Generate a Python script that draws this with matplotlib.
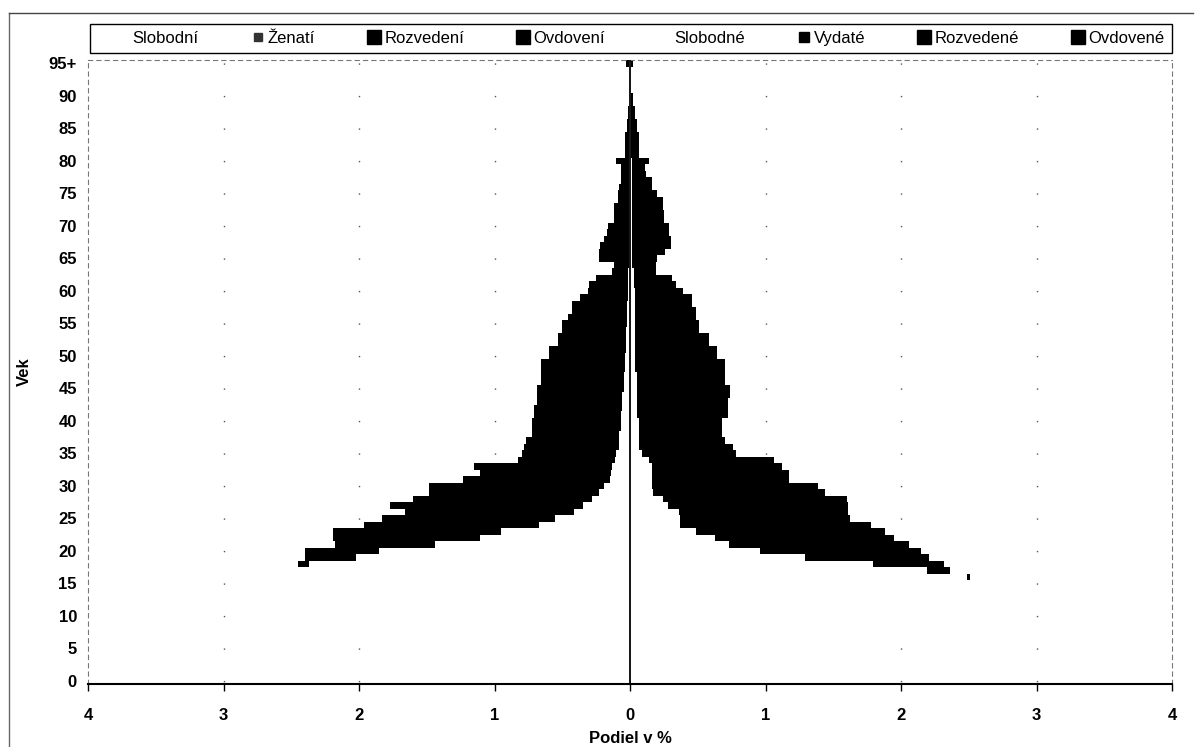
import numpy as np
import matplotlib
matplotlib.use('Agg')
import matplotlib.pyplot as plt
from matplotlib.lines import Line2D
from matplotlib.patches import Rectangle

plt.rcParams['font.family'] = ['Liberation Sans', 'DejaVu Sans']
plt.rcParams['lines.scale_dashes'] = False

# ── Data: podiel v % podľa veku a rodinného stavu ─────────────
ages = [str(a) for a in range(95)] + ['95+']
x_ticks = [-4, -3, -2, -1, 0, 1, 2, 3, 4]

# muži (ľavá strana)
muzi_slobodni = [
    1.55, 1.60, 1.62, 1.65, 1.70, 1.75, 1.80, 1.90, 1.98, 2.05,
    2.10, 2.15, 2.20, 2.30, 2.35, 2.40, 2.45, 2.45, 2.37, 2.02,
    1.85, 1.44, 1.11, 0.95, 0.67, 0.55, 0.41, 0.35, 0.28, 0.23,
    0.19, 0.15, 0.14, 0.13, 0.11, 0.10, 0.08, 0.08, 0.08, 0.07,
    0.07, 0.07, 0.06, 0.06, 0.06, 0.045, 0.045, 0.045, 0.04, 0.04,
    0.04, 0.03, 0.03, 0.03, 0.03, 0.02, 0.02, 0.02, 0.02, 0.015,
    0.015, 0.015, 0.015, 0.015, 0.01, 0.01, 0.01, 0.01, 0.01, 0.01,
    0.01, 0.01, 0.01, 0.01, 0.01, 0.01, 0.01, 0.01, 0.01, 0.01,
    0.01, 0.005, 0.005, 0.005, 0.005, 0.005, 0.005, 0.005, 0.005, 0.005,
    0.005, 0.005, 0.005, 0.005, 0.005, 0.005]
muzi_zenati = [
    0, 0, 0, 0, 0, 0, 0, 0, 0, 0,
    0, 0, 0, 0, 0, 0, 0, 0, 0.08, 0.38,
    0.55, 0.74, 1.07, 1.23, 1.28, 1.25, 1.22, 1.39, 1.29, 1.21,
    1.25, 1.04, 0.93, 0.98, 0.68, 0.66, 0.66, 0.65, 0.60, 0.61,
    0.605, 0.595, 0.605, 0.585, 0.585, 0.60, 0.57, 0.57, 0.575, 0.575,
    0.51, 0.52, 0.45, 0.45, 0.42, 0.43, 0.41, 0.38, 0.38, 0.325,
    0.265, 0.255, 0.205, 0.085, 0.08, 0.19, 0.19, 0.18, 0.15, 0.13,
    0.12, 0.08, 0.08, 0.08, 0.05, 0.05, 0.04, 0.03, 0.03, 0.03,
    0.065, 0.025, 0.025, 0.025, 0.025, 0.01, 0.01, 0.005, 0.005, 0.003,
    0.003, 0.002, 0.002, 0.002, 0.002, 0.023]
muzi_rozvedeni = [
    0, 0, 0, 0, 0, 0, 0, 0, 0, 0,
    0, 0, 0, 0, 0, 0, 0, 0, 0, 0,
    0, 0, 0.01, 0.01, 0.01, 0.03, 0.03, 0.03, 0.03, 0.04,
    0.04, 0.04, 0.04, 0.04, 0.04, 0.04, 0.04, 0.04, 0.04, 0.04,
    0.04, 0.04, 0.04, 0.04, 0.04, 0.04, 0.04, 0.04, 0.04, 0.04,
    0.04, 0.04, 0.04, 0.04, 0.04, 0.04, 0.02, 0.02, 0.02, 0.02,
    0.02, 0.02, 0.02, 0.02, 0.02, 0.01, 0.01, 0.01, 0.01, 0.01,
    0.01, 0.01, 0.01, 0.01, 0.01, 0.01, 0.01, 0.01, 0.01, 0.01,
    0.01, 0, 0, 0, 0, 0, 0, 0, 0, 0,
    0, 0, 0, 0, 0, 0]
muzi_ovdoveni = [
    0, 0, 0, 0, 0, 0, 0, 0, 0, 0,
    0, 0, 0, 0, 0, 0, 0, 0, 0, 0,
    0, 0, 0, 0, 0, 0, 0, 0, 0, 0,
    0, 0, 0, 0, 0, 0, 0, 0, 0, 0,
    0.005, 0.005, 0.005, 0.005, 0.005, 0.005, 0.005, 0.005, 0.005, 0.005,
    0.01, 0.01, 0.01, 0.01, 0.01, 0.01, 0.01, 0.01, 0.01, 0.01,
    0.01, 0.01, 0.01, 0.01, 0.01, 0.02, 0.02, 0.02, 0.02, 0.02,
    0.02, 0.02, 0.02, 0.02, 0.02, 0.02, 0.02, 0.02, 0.02, 0.02,
    0.02, 0.005, 0.005, 0.005, 0.005, 0.005, 0.005, 0.005, 0.005, 0.002,
    0.002, 0.002, 0.002, 0.002, 0.002, 0.002]

# ženy (pravá strana)
zeny_slobodne = [
    1.50, 1.55, 1.58, 1.60, 1.65, 1.70, 1.75, 1.82, 1.90, 1.97,
    2.02, 2.08, 2.15, 2.22, 2.30, 2.40, 2.49, 2.19, 1.79, 1.29,
    0.96, 0.73, 0.63, 0.49, 0.37, 0.37, 0.36, 0.28, 0.24, 0.17,
    0.16, 0.16, 0.16, 0.16, 0.14, 0.09, 0.07, 0.07, 0.07, 0.07,
    0.07, 0.05, 0.05, 0.05, 0.05, 0.05, 0.05, 0.05, 0.04, 0.04,
    0.04, 0.04, 0.04, 0.04, 0.04, 0.04, 0.04, 0.04, 0.04, 0.04,
    0.04, 0.03, 0.03, 0.03, 0.015, 0.015, 0.015, 0.015, 0.015, 0.015,
    0.015, 0.015, 0.015, 0.015, 0.015, 0.015, 0.015, 0.015, 0.015, 0.015,
    0.015, 0.005, 0.005, 0.005, 0.005, 0.005, 0.005, 0.005, 0.005, 0.005,
    0.005, 0.005, 0.005, 0.005, 0.005, 0.005]
zeny_vydate = [
    0, 0, 0, 0, 0, 0, 0, 0, 0, 0,
    0, 0, 0, 0, 0, 0, 0.02, 0.17, 0.53, 0.91,
    1.18, 1.32, 1.29, 1.36, 1.38, 1.22, 1.22, 1.30, 1.33, 1.24,
    1.18, 0.96, 0.96, 0.91, 0.87, 0.63, 0.63, 0.57, 0.55, 0.55,
    0.55, 0.61, 0.61, 0.61, 0.63, 0.62, 0.58, 0.58, 0.59, 0.59,
    0.51, 0.51, 0.45, 0.45, 0.38, 0.36, 0.36, 0.36, 0.33, 0.33,
    0.26, 0.22, 0.19, 0.07, 0.085, 0.095, 0.155, 0.195, 0.195, 0.185,
    0.165, 0.125, 0.125, 0.115, 0.115, 0.105, 0.07, 0.07, 0.02, 0.015,
    0.045, 0.021, 0.021, 0.021, 0.021, 0.019, 0.019, 0.012, 0.012, 0.007,
    0.007, 0.002, 0.002, 0.002, 0.002, 0.005]
zeny_rozvedene = [
    0, 0, 0, 0, 0, 0, 0, 0, 0, 0,
    0, 0, 0, 0, 0, 0, 0, 0, 0, 0.01,
    0.01, 0.01, 0.03, 0.03, 0.03, 0.03, 0.03, 0.03, 0.03, 0.03,
    0.05, 0.05, 0.05, 0.05, 0.05, 0.05, 0.05, 0.05, 0.05, 0.05,
    0.05, 0.05, 0.05, 0.05, 0.05, 0.05, 0.05, 0.05, 0.05, 0.05,
    0.05, 0.05, 0.05, 0.05, 0.05, 0.05, 0.03, 0.03, 0.03, 0.03,
    0.03, 0.03, 0.03, 0.03, 0.03, 0.01, 0.01, 0.01, 0.01, 0.01,
    0.01, 0.01, 0.01, 0.01, 0.01, 0.01, 0.01, 0.01, 0.01, 0.01,
    0.01, 0, 0, 0, 0, 0, 0, 0, 0, 0,
    0, 0, 0, 0, 0, 0]
zeny_ovdovene = [
    0, 0, 0, 0, 0, 0, 0, 0, 0, 0,
    0, 0, 0, 0, 0, 0, 0, 0, 0, 0,
    0, 0, 0, 0, 0, 0, 0, 0, 0, 0,
    0, 0, 0, 0, 0, 0.01, 0.01, 0.01, 0.01, 0.01,
    0.01, 0.01, 0.01, 0.01, 0.01, 0.02, 0.02, 0.02, 0.02, 0.02,
    0.04, 0.04, 0.04, 0.04, 0.04, 0.06, 0.06, 0.06, 0.06, 0.06,
    0.06, 0.06, 0.06, 0.06, 0.06, 0.08, 0.08, 0.08, 0.08, 0.08,
    0.10, 0.10, 0.10, 0.10, 0.10, 0.07, 0.07, 0.07, 0.07, 0.07,
    0.07, 0.04, 0.04, 0.04, 0.04, 0.03, 0.03, 0.02, 0.02, 0.01,
    0.01, 0.003, 0.003, 0.003, 0.003, 0.01]

# ── Figure ────────────────────────────────────────────────────
W, H = 1197, 747
fig = plt.figure(figsize=(W / 100, H / 100), dpi=100)
ax = fig.add_axes([88 / W, 1 - 684 / H, (1172 - 88) / W, (684 - 60) / H])

y = np.arange(len(ages))
men = [(muzi_slobodni, 'white'), (muzi_zenati, 'black'),
       (muzi_rozvedeni, 'black'), (muzi_ovdoveni, 'black')]
women = [(zeny_slobodne, 'white'), (zeny_vydate, 'black'),
         (zeny_rozvedene, 'black'), (zeny_ovdovene, 'black')]

for side, series in [(-1, men), (1, women)]:
    start = np.zeros(len(ages))
    for vals, col in series:
        v = np.array(vals)
        ax.barh(y, side * v, left=side * start, height=1.0, color=col,
                linewidth=0, antialiased=False)
        start += v

ax.axvline(0, color='black', lw=1.3, zorder=4)

ax.set_xlim(-4, 4)
ax.set_ylim(-0.5, len(ages) - 0.5)

# sparse dotted grid (dots only at 5-year steps, as in the scan)
step_px = (684 - 60) / len(ages) * 5 * 0.72
for xv in [-3, -2, -1, 1, 2, 3]:
    ax.axvline(xv, color='#555555', lw=1.0,
               linestyle=(step_px - 1.6, (1.0, step_px - 1.0)), zorder=0)

ax.set_xticks(x_ticks)
ax.set_xticklabels([str(abs(t)) for t in x_ticks], fontsize=12, fontweight='bold')
ax.set_yticks(y[::5])
ax.set_yticklabels(ages[::5], fontsize=12, fontweight='bold')
ax.tick_params(axis='y', length=0, pad=8)
ax.tick_params(axis='x', direction='out', length=5, width=1, pad=12)

for s in ['left', 'right', 'top']:
    ax.spines[s].set_color('#777777')
    ax.spines[s].set_linestyle((0, (3, 3)))
    ax.spines[s].set_linewidth(0.8)
ax.spines['bottom'].set_color('black')
ax.spines['bottom'].set_linewidth(1.5)

ax.set_xlabel('Podiel v %', fontsize=12, fontweight='bold', labelpad=6)
ax.set_ylabel('Vek', fontsize=12, fontweight='bold', labelpad=12)

# legend: frame drawn as its own box, entries spread inside it
fig.add_artist(Rectangle((90 / W, 1 - 53 / H), (1172 - 90) / W, 29 / H,
                         transform=fig.transFigure, facecolor='white',
                         edgecolor='black', lw=1.0))
handles = [
    Line2D([], [], marker='s', ls='', markersize=0, color='white'),
    Line2D([], [], marker='s', ls='', markersize=6, color='#333333'),
    Line2D([], [], marker='s', ls='', markersize=10, color='black'),
    Line2D([], [], marker='s', ls='', markersize=10, color='black'),
    Line2D([], [], marker='s', ls='', markersize=0, color='white'),
    Line2D([], [], marker='s', ls='', markersize=7, color='black'),
    Line2D([], [], marker='s', ls='', markersize=10, color='black'),
    Line2D([], [], marker='s', ls='', markersize=10, color='black'),
]
labels = ['Slobodní', 'Ženatí', 'Rozvedení', 'Ovdovení',
          'Slobodné', 'Vydaté', 'Rozvedené', 'Ovdovené']
leg = fig.legend(handles, labels, ncol=8, loc='center',
                 bbox_to_anchor=(640 / W, 1 - 38.5 / H),
                 fontsize=12, frameon=False,
                 handlelength=0.8, handletextpad=0.2, borderpad=0.2,
                 columnspacing=3.15)

# outer frame of the scanned chart
fig.add_artist(Line2D([9 / W, 9 / W], [0, 1 - 13 / H], transform=fig.transFigure,
                      color='#666666', lw=1))
fig.add_artist(Line2D([9 / W, 1193 / W], [1 - 13 / H, 1 - 13 / H],
                      transform=fig.transFigure, color='#444444', lw=1))

fig.savefig('out.png', dpi=100)
